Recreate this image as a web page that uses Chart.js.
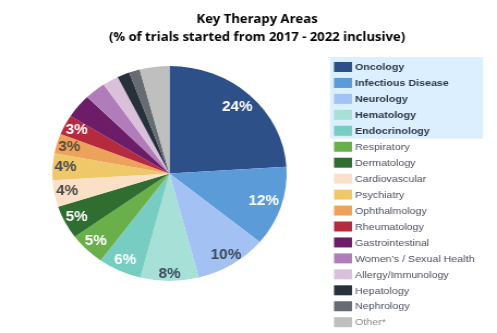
<!DOCTYPE html>
<html>
<head>
<meta charset="utf-8">
<script src="https://cdn.jsdelivr.net/npm/chart.js@4/dist/chart.umd.min.js"></script>
<style>
  html, body { margin: 0; padding: 0; background: #ffffff; overflow: hidden; }
  #wrap { width: 497px; height: 333px; position: relative; overflow: hidden; }
  /* the figure is laid out on a narrower canvas and widened to the page */
  #c { position: absolute; left: 0; top: 0; transform-origin: 0 0; }
</style>
</head>
<body>
<div id="wrap"><canvas id="c" width="456" height="333"></canvas></div>
<script>
// Therapy areas, in clockwise order from 12 o'clock
const categories = [
  'Oncology', 'Infectious Disease', 'Neurology', 'Hematology', 'Endocrinology',
  'Respiratory', 'Dermatology', 'Cardiovascular', 'Psychiatry', 'Ophthalmology',
  'Rheumatology', 'Gastrointestinal', 'Women\u2019s / Sexual Health',
  'Allergy/Immunology', 'Hepatology', 'Nephrology', 'Other*'
];
// Share of trials started (%)
const shares = [24, 12, 10, 8, 6, 5, 5, 4, 4, 3, 3, 3.6, 2.9, 2.2, 1.7, 1.5, 4.1];
// Slices that carry a printed percentage
const labelledCount = 11;
// Areas emphasised in the legend
const keyAreaCount = 5;

const colors = [
  '#2d5089', '#5b9bd8', '#a3c2f3', '#a6e0d7', '#78cdc3',
  '#69b04a', '#2f6d31', '#f9e0c6', '#efc86a', '#eda25c',
  '#b62a3d', '#6d1c68', '#b07cb9', '#dbc0dc', '#27313c',
  '#676b72', '#bfbfbf'
];
const labelColors = [
  '#ffffff', '#ffffff', '#3b4a5c', '#3b4a5c', '#ffffff',
  '#ffffff', '#ffffff', '#4a4a4a', '#4a4a4a', '#5a4a3a', '#ffffff'
];
// distance of each percentage from the centre, as a share of the radius
const labelRadius = [0.845, 0.845, 0.9, 0.94, 0.89, 0.89, 0.89, 0.89, 0.89, 0.89, 0.89];

const titleLines = ['Key Therapy Areas', '(% of trials started from 2017 - 2022 inclusive)'];

// horizontal stretch between canvas units and page pixels
const CANVAS_W = 456, PAGE_W = 497;
const SX = PAGE_W / CANVAS_W;
const px = v => v / SX;

const titlePlugin = {
  id: 'titleText',
  afterDraw(chart) {
    const ctx = chart.ctx;
    ctx.save();
    ctx.fillStyle = '#000000';
    ctx.font = 'bold 12px "Open Sans", "Liberation Sans", sans-serif';
    ctx.textAlign = 'center';
    ctx.textBaseline = 'middle';
    ctx.fillText(titleLines[0], px(257), 20);
    ctx.fillText(titleLines[1], px(257), 38);
    ctx.restore();
  }
};

const sliceLabels = {
  id: 'sliceLabels',
  afterDatasetsDraw(chart) {
    const ctx = chart.ctx;
    const meta = chart.getDatasetMeta(0);
    ctx.save();
    ctx.font = 'bold 14px "Liberation Sans", Arial, sans-serif';
    ctx.textAlign = 'center';
    ctx.textBaseline = 'middle';
    meta.data.forEach((arc, i) => {
      if (i >= labelledCount) return;
      const p = arc.getProps(['x', 'y', 'startAngle', 'endAngle', 'outerRadius'], true);
      const mid = (p.startAngle + p.endAngle) / 2;
      const r = p.outerRadius * labelRadius[i];
      ctx.fillStyle = labelColors[i];
      ctx.fillText(Math.round(shares[i]) + '%', p.x + Math.cos(mid) * r, p.y + Math.sin(mid) * r);
    });
    ctx.restore();
  }
};

const legendPlugin = {
  id: 'sideLegend',
  afterDraw(chart) {
    const ctx = chart.ctx;
    const y0 = 62, step = 15.95;
    ctx.save();
    ctx.fillStyle = '#dcefff';
    ctx.fillRect(px(330), 57, px(483) - px(330), y0 + step * keyAreaCount - 57 - 3);
    ctx.textBaseline = 'middle';
    ctx.textAlign = 'left';
    categories.forEach((name, i) => {
      const y = y0 + i * step;
      ctx.fillStyle = colors[i];
      ctx.fillRect(px(334), y, px(352) - px(334), 10);
      const bold = i < keyAreaCount;
      ctx.font = (bold ? 'bold ' : '') + '9.8px "Liberation Sans", Arial, sans-serif';
      ctx.fillStyle = bold ? '#2d3748' : (i === categories.length - 1 ? '#8a8a8a' : '#4b5060');
      ctx.fillText(name, px(355), y + 5.5);
    });
    ctx.restore();
  }
};

const canvas = document.getElementById('c');
canvas.style.width = CANVAS_W + 'px';
canvas.style.height = '333px';
canvas.style.transform = 'scaleX(' + SX + ')';

new Chart(canvas, {
  type: 'pie',
  data: {
    labels: categories,
    datasets: [{
      data: shares,
      backgroundColor: colors,
      borderWidth: 0
    }]
  },
  options: {
    responsive: false,
    animation: false,
    layout: { padding: { left: 48, right: 193, top: 66, bottom: 52 } },
    plugins: {
      legend: { display: false },
      title: { display: false },
      tooltip: { enabled: false }
    }
  },
  plugins: [titlePlugin, sliceLabels, legendPlugin]
});
</script>
</body>
</html>
